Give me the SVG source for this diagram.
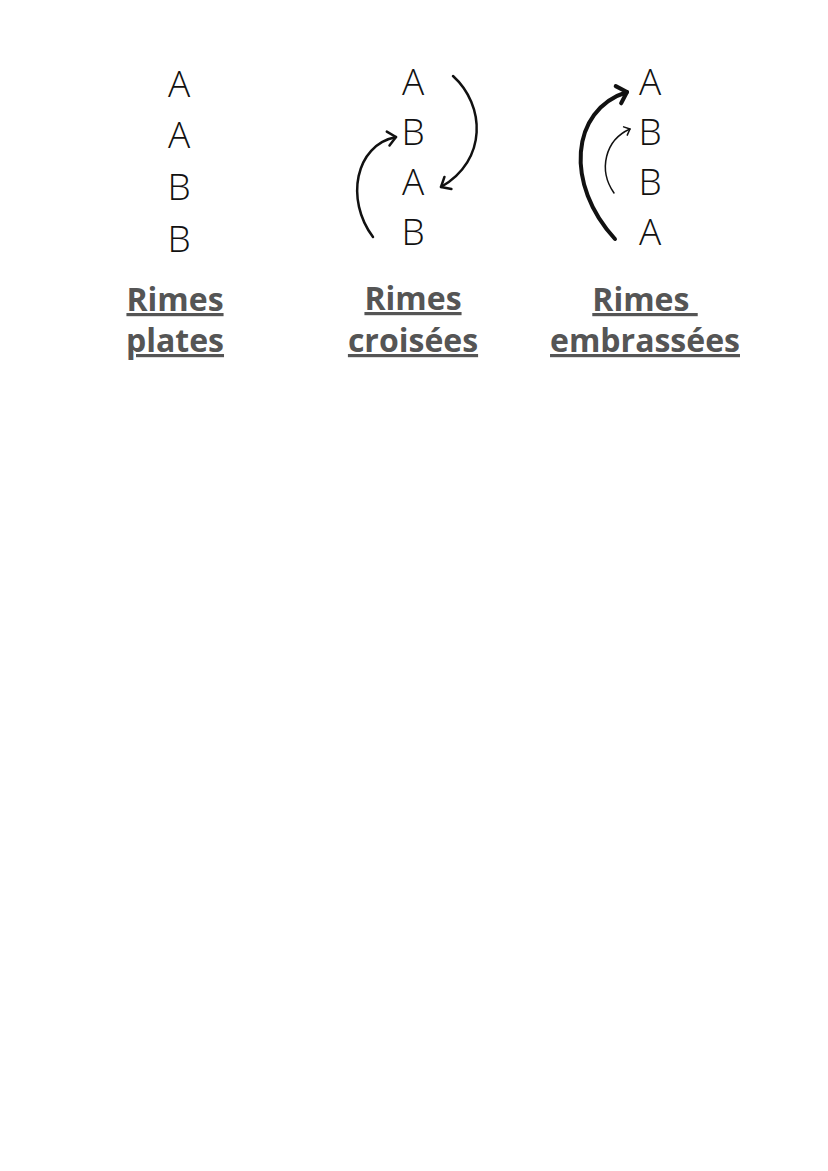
<svg xmlns="http://www.w3.org/2000/svg" width="828" height="1171" viewBox="0 0 828 1171">
<style>
.l{font-family:"Open Sans","Noto Sans",sans-serif;font-size:37px;font-weight:300;fill:#111;text-anchor:middle}
.t{font-family:"Open Sans","Noto Sans",sans-serif;font-size:32px;font-weight:700;fill:#555;text-anchor:middle;text-decoration:underline}
.a{fill:none;stroke:#111;stroke-linecap:round;stroke-linejoin:round}
</style>
<defs>
<marker id="h" markerUnits="userSpaceOnUse" markerWidth="20" markerHeight="20" refX="10" refY="10" orient="auto" viewBox="0 0 20 20" overflow="visible">
<path d="M2,3 L10,10 L2,17" fill="none" stroke="#111" stroke-width="2.5" stroke-linecap="round" stroke-linejoin="round"/>
</marker>
<marker id="hb" markerUnits="userSpaceOnUse" markerWidth="24" markerHeight="24" refX="12" refY="12" orient="auto" viewBox="0 0 24 24" overflow="visible">
<path d="M3,3 L12,12 L3,21" fill="none" stroke="#111" stroke-width="4" stroke-linecap="round" stroke-linejoin="round"/>
</marker>
<marker id="hs" markerUnits="userSpaceOnUse" markerWidth="12" markerHeight="12" refX="6" refY="6" orient="auto" viewBox="0 0 12 12" overflow="visible">
<path d="M1,1.5 L6,6 L1,10.5" fill="none" stroke="#111" stroke-width="1.5" stroke-linecap="round" stroke-linejoin="round"/>
</marker>
</defs>
<g id="plates">
<text class="l" x="179" y="97">A</text>
<text class="l" x="179" y="148">A</text>
<text class="l" x="179" y="200">B</text>
<text class="l" x="179" y="252">B</text>
<text class="t" x="175" y="311">Rimes</text>
<text class="t" x="175" y="352">plates</text>
</g>
<g id="croisees">
<text class="l" x="413" y="95">A</text>
<text class="l" x="413" y="145">B</text>
<text class="l" x="413" y="195">A</text>
<text class="l" x="413" y="245">B</text>
<text class="t" x="413" y="310">Rimes</text>
<text class="t" x="413" y="352">croisées</text>
</g>
<g id="embrassees">
<text class="l" x="650" y="95">A</text>
<text class="l" x="650" y="145">B</text>
<text class="l" x="650" y="195">B</text>
<text class="l" x="650" y="245">A</text>
<text class="t" x="645" y="311" xml:space="preserve">Rimes </text>
<text class="t" x="645" y="352">embrassées</text>
</g>
<g id="connectors">
<path class="a" stroke-width="2.5" d="M453,76 C485,105 488,160 441,187" marker-end="url(#h)"/>
<path class="a" stroke-width="2.5" d="M373,237 C345,200 355,145 396,137" marker-end="url(#h)"/>
<path class="a" stroke-width="4" d="M615,239 C565,185 570,110 627,92" marker-end="url(#hb)"/>
<path class="a" stroke-width="1.5" d="M614,193 C598,170 605,140 630,129" marker-end="url(#hs)"/>
</g>
</svg>
